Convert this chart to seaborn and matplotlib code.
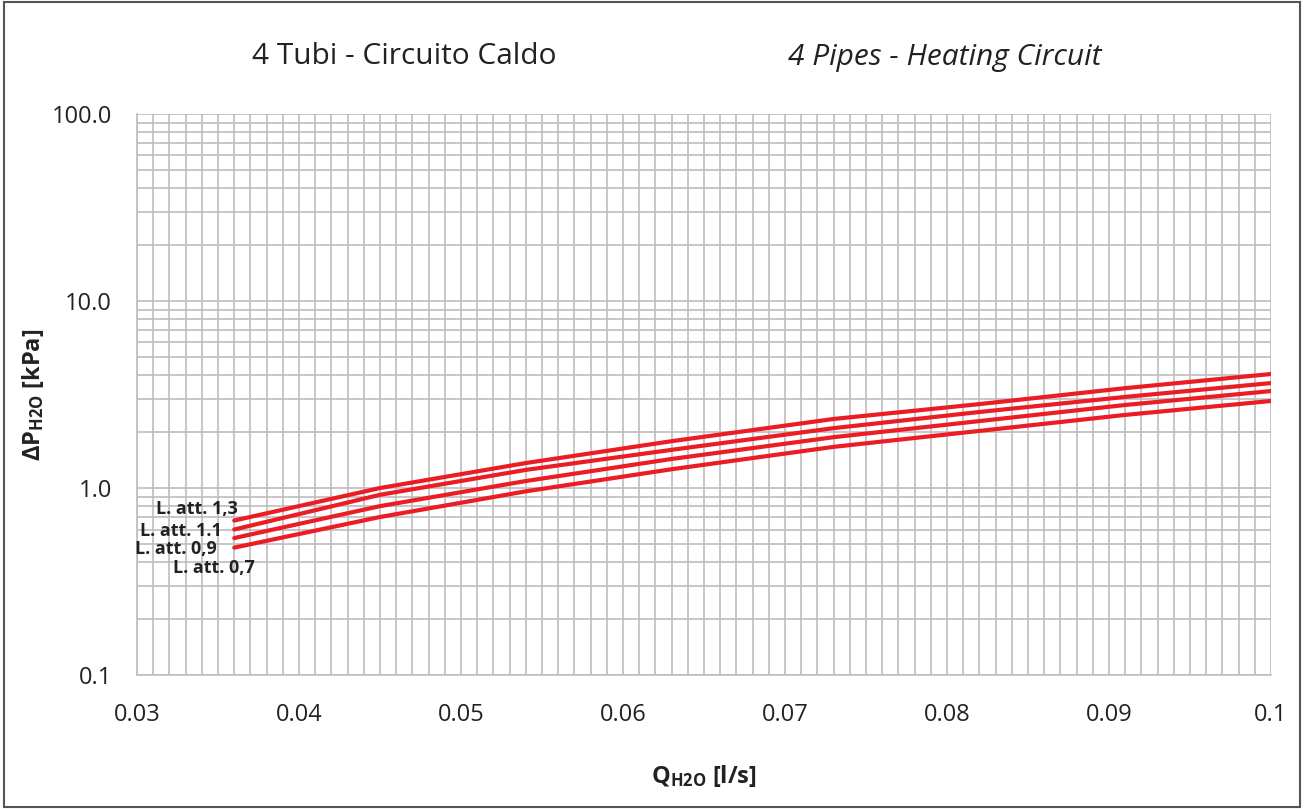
import numpy as np
import pandas as pd
import matplotlib
matplotlib.use("Agg")
import matplotlib.pyplot as plt
import matplotlib.ticker as mticker
from matplotlib.patches import Rectangle
import seaborn as sns

# flow rate [l/s]
flow = [0.036, 0.045, 0.054, 0.063, 0.073, 0.082, 0.091, 0.100]

# pressure drop [kPa] per attenuation curve
dp_13 = [0.67, 1.00, 1.36, 1.78, 2.34, 2.81, 3.42, 4.07]
dp_11 = [0.60, 0.92, 1.25, 1.60, 2.09, 2.55, 3.07, 3.64]
dp_09 = [0.54, 0.80, 1.09, 1.43, 1.87, 2.28, 2.78, 3.30]
dp_07 = [0.48, 0.70, 0.96, 1.26, 1.66, 2.02, 2.46, 2.92]

curve_names = ["L. att. 1,3", "L. att. 1.1", "L. att. 0,9", "L. att. 0,7"]

x_ticks = [0.03, 0.04, 0.05, 0.06, 0.07, 0.08, 0.09, 0.1]
y_ticks = [0.1, 1.0, 10.0, 100.0]

sns.set_style("white")
plt.rcParams['font.family'] = ['Open Sans', 'DejaVu Sans']
plt.rcParams['mathtext.fontset'] = 'custom'
plt.rcParams['mathtext.rm'] = 'Open Sans'
plt.rcParams['mathtext.bf'] = 'Open Sans:bold'

df = pd.DataFrame({
    "flow": flow * 4,
    "dp": dp_13 + dp_11 + dp_09 + dp_07,
    "curve": [n for n in curve_names for _ in flow],
})

fig = plt.figure(figsize=(13.04, 8.09), dpi=100)
ax = fig.add_axes([0.1051, 0.1656, 0.8696, 0.6935])

red = "#ec1c24"
sns.lineplot(data=df, x="flow", y="dp", hue="curve", palette=[red] * 4,
             linewidth=3.0, legend=False, ax=ax, zorder=3)

ax.set_yscale("log")
ax.set_xlim(0.03, 0.1)
ax.set_ylim(0.1, 100)

grid_c = "#bdbdbd"
ax.xaxis.set_major_locator(mticker.FixedLocator(x_ticks))
ax.xaxis.set_minor_locator(mticker.MultipleLocator(0.001))
ax.xaxis.set_major_formatter(mticker.FuncFormatter(lambda v, p: "%g" % round(v, 3)))
ax.yaxis.set_major_locator(mticker.FixedLocator(y_ticks))
ax.yaxis.set_minor_locator(mticker.LogLocator(base=10, subs=np.arange(2, 10)))
ax.yaxis.set_major_formatter(mticker.FuncFormatter(lambda v, p: "%.1f" % v))
ax.yaxis.set_minor_formatter(mticker.NullFormatter())

ax.grid(True, which="both", color=grid_c, linewidth=1.2)
for s in ["top", "right"]:
    ax.spines[s].set_visible(False)
for s in ["left", "bottom"]:
    ax.spines[s].set_color(grid_c)
    ax.spines[s].set_linewidth(1.2)

ax.tick_params(axis="both", which="major", direction="out", length=8, width=1.2,
               color=grid_c, labelsize=17, labelcolor="#222222")
ax.tick_params(axis="both", which="minor", length=0)
ax.tick_params(axis="x", pad=12)
ax.tick_params(axis="y", pad=10)

ax.set_xlabel(r"$\mathbf{Q_{H2O}}$ [l/s]", fontsize=17, fontweight="bold", color="#222222")
ax.set_ylabel(r"$\mathbf{\Delta P_{H2O}}$ [kPa]", fontsize=17, fontweight="bold", color="#222222")
ax.xaxis.set_label_coords(0.5, -0.157)
ax.yaxis.set_label_coords(-0.080, 0.5)

# curve labels
label_pos = [(0.0362, 0.77, "right"), (0.03525, 0.59, "right"),
             (0.03494, 0.472, "right"), (0.03728, 0.373, "right")]
for (lx, ly, ha), name in zip(label_pos, curve_names):
    ax.text(lx, ly, name, ha=ha, va="center", fontsize=13, fontweight="bold",
            color="#222222", zorder=4)

# titles
fig.text(404 / 1304, 1 - 57 / 809, "4 Tubi - Circuito Caldo", ha="center", va="center",
         fontsize=21.5, color="#222222")
fig.text(945 / 1304, 1 - 57 / 809, "4 Pipes - Heating Circuit", ha="center", va="center",
         fontsize=21.5, style="italic", color="#222222")

# outer frame
fig.patches.append(Rectangle((0.003, 0.002), 0.994, 0.996, transform=fig.transFigure,
                             fill=False, edgecolor="#555555", linewidth=1.5))

fig.savefig("out.png", dpi=100)
